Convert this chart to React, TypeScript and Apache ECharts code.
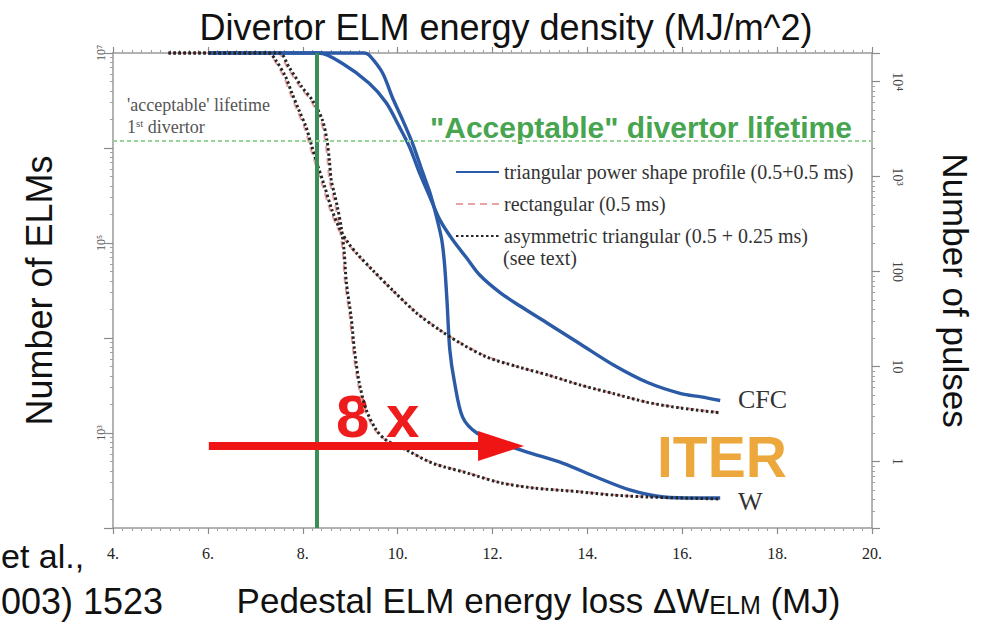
import React, { useEffect, useRef } from "react";
import * as echarts from "echarts";

// Number of ELMs tolerated vs pedestal ELM energy loss (MJ), per power-shape model.
const triangularCFC: [number, number][] = [
  [6.01, 1e7], [8.34, 1e7], [8.83, 7.8e6], [9.4, 4.8e6], [9.76, 3.0e6], [10.04, 1.66e6],
  [10.25, 1.03e6], [10.46, 5.5e5], [10.68, 3.05e5], [10.89, 1.75e5], [11.16, 1.08e5],
  [11.46, 6.9e4], [11.73, 4.6e4], [12.16, 3.0e4], [12.58, 2.17e4], [13.15, 1.44e4],
  [13.85, 8.65e3], [14.55, 5.2e3], [15.27, 3.4e3], [15.97, 2.6e3], [16.4, 2.4e3], [16.8, 2.2e3],
];
const triangularW: [number, number][] = [
  [6.01, 1e7], [9.3, 1e7], [9.4, 9.5e6], [9.68, 6.2e6], [9.89, 3.4e6], [10.1, 2.0e6],
  [10.31, 1.13e6], [10.53, 5.5e5], [10.68, 3.4e5], [10.82, 1.88e5], [10.93, 1.08e5],
  [10.99, 5.9e4], [11.04, 2.5e4], [11.1, 7.5e3], [11.2, 3.4e3], [11.37, 1.47e3],
  [11.67, 1.0e3], [12.16, 790], [12.73, 630], [13.49, 480], [14.21, 340], [14.91, 250],
  [15.61, 212], [16.33, 207], [16.8, 207],
];
const rectangularCFC: [number, number][] = [
  [5.17, 1e7], [7.26, 1e7], [7.4, 8.4e6], [7.6, 5.6e6], [7.73, 3.8e6], [7.88, 2.5e6],
  [8.03, 1.66e6], [8.13, 1.13e6], [8.26, 6.9e5], [8.41, 4.1e5], [8.58, 2.2e5], [8.76, 1.37e5],
  [8.94, 1.0e5], [9.13, 7.65e4], [9.46, 5.2e4], [9.88, 3.2e4], [10.4, 1.85e4], [10.89, 1.22e4],
  [11.31, 9.0e3], [11.88, 6.4e3], [12.52, 5.0e3], [13.15, 4.1e3], [13.85, 3.2e3],
  [14.55, 2.6e3], [15.27, 2.1e3], [15.97, 1.85e3], [16.8, 1.65e3],
];
const rectangularW: [number, number][] = [
  [5.17, 1e7], [7.46, 1e7], [7.67, 7.1e6], [7.94, 4.4e6], [8.16, 3.2e6], [8.37, 2.0e6],
  [8.47, 1.21e6], [8.52, 7.5e5], [8.56, 4.6e5], [8.62, 3.4e5], [8.69, 2.4e5], [8.77, 1.47e5],
  [8.84, 8.4e4], [8.89, 3.8e4], [8.99, 1.66e4], [9.06, 7.5e3], [9.16, 3.4e3], [9.31, 1.75e3],
  [9.52, 1.08e3], [9.74, 850], [10.19, 665], [10.74, 485], [11.46, 385], [12.16, 302],
  [12.86, 266], [13.85, 242], [14.55, 224], [15.27, 213], [15.97, 208], [16.8, 203],
];
const asymmetricCFC: [number, number][] = [
  [5.17, 1e7], [7.28, 1e7], [7.43, 8.4e6], [7.64, 5.6e6], [7.77, 3.8e6], [7.92, 2.5e6],
  [8.07, 1.66e6], [8.17, 1.13e6], [8.3, 6.9e5], [8.45, 4.1e5], [8.62, 2.2e5], [8.79, 1.37e5],
  [8.96, 1.0e5], [9.15, 7.65e4], [9.47, 5.2e4], [9.89, 3.2e4], [10.4, 1.83e4], [10.89, 1.21e4],
  [11.31, 8.9e3], [11.88, 6.3e3], [12.52, 5.0e3], [13.15, 4.1e3], [13.85, 3.2e3],
  [14.55, 2.6e3], [15.27, 2.1e3], [15.97, 1.83e3], [16.8, 1.63e3],
];
const asymmetricW: [number, number][] = [
  [5.17, 1e7], [7.5, 1e7], [7.71, 7.1e6], [7.98, 4.4e6], [8.2, 3.2e6], [8.41, 2.0e6],
  [8.51, 1.21e6], [8.56, 7.5e5], [8.6, 4.6e5], [8.66, 3.4e5], [8.73, 2.4e5], [8.81, 1.47e5],
  [8.87, 8.4e4], [8.92, 3.8e4], [9.02, 1.66e4], [9.09, 7.5e3], [9.19, 3.4e3], [9.34, 1.75e3],
  [9.55, 1.08e3], [9.76, 840], [10.19, 660], [10.74, 480], [11.46, 380], [12.16, 300],
  [12.86, 264], [13.85, 240], [14.55, 222], [15.27, 212], [15.97, 207], [16.8, 202],
];

// Reference levels and annotations (data units)
const designEnergyLoss = 8.3; // MJ, vertical marker
const acceptableLifetimeELMs = 1.2e6; // ELMs, horizontal marker
const arrowStart: [number, number] = [6.02, 730];
const arrowEnd: [number, number] = [12.18, 730];

// Axis ticks and labels
const xMin = 4;
const xMax = 20;
const xStep = 2;
const elmTickValues = [1e7, 1e5, 1e3];
const elmTickLabels = ["10⁷", "10⁵", "10³"];
const pulseTickValues = [1e4, 1e3, 100, 10, 1];
const pulseTickLabels = ["10⁴", "10³", "100", "10", "1"];

const legendNames = [
  "triangular power shape profile (0.5+0.5 ms)",
  "rectangular (0.5 ms)",
  "asymmetric triangular (0.5 + 0.25 ms)",
];

const SANS = '"Liberation Sans", Arial, sans-serif';
const SERIF = '"Liberation Serif", "Times New Roman", serif';

const labelFor = (values: number[], labels: string[]) => (v: number) => {
  const i = values.findIndex((t) => Math.abs(Math.log10(t) - Math.log10(v)) < 1e-6);
  return i >= 0 ? labels[i] : "";
};

export default function App() {
  const ref = useRef<HTMLDivElement>(null);

  useEffect(() => {
    if (!ref.current) return;
    const chart = echarts.init(ref.current, undefined, { renderer: "svg" });

    const axisLine = { lineStyle: { color: "#9a9a9a", width: 1.5 } };
    const axisTick = { length: 6, lineStyle: { color: "#8a8a8a", width: 1.2 } };
    const minorTick = (n: number) => ({
      show: true,
      splitNumber: n,
      length: 3,
      lineStyle: { color: "#a0a0a0", width: 1 },
    });

    const blue = "#2b5aa6";
    const pink = "#eaa3a3";
    const dark = "#262626";

    const lineSeries = (name: string, data: [number, number][], style: any, extra: any = {}) => ({
      type: "line",
      name,
      data,
      xAxisIndex: 0,
      yAxisIndex: 0,
      symbol: "none",
      smooth: 0.3,
      clip: false,
      lineStyle: style,
      itemStyle: { color: style.color },
      ...extra,
    });

    chart.setOption({
      animation: false,
      backgroundColor: "#ffffff",
      grid: { left: 113, right: 116, top: 53, bottom: 100 },
      legend: {
        data: legendNames,
        orient: "vertical",
        left: 450,
        top: 157,
        itemWidth: 43,
        itemHeight: 14,
        itemGap: 12,
        itemStyle: { opacity: 0 },
        textStyle: { fontFamily: SERIF, fontSize: 20, color: "#333" },
        selectedMode: false,
      },
      xAxis: [
        {
          type: "value",
          position: "bottom",
          min: xMin,
          max: xMax,
          interval: xStep,
          axisLine,
          axisTick,
          minorTick: minorTick(10),
          splitLine: { show: false },
          axisLabel: {
            formatter: (v: number) => `${v}.`,
            fontFamily: SERIF,
            fontSize: 16,
            color: "#222",
            margin: 17,
          },
          name: "Pedestal ELM energy loss ΔW{s|ELM} (MJ)",
          nameLocation: "middle",
          nameGap: 55,
          nameTextStyle: {
            fontFamily: SANS,
            fontSize: 35,
            color: "#111",
            padding: [0, 0, 0, 92],
            rich: { s: { fontFamily: SANS, fontSize: 25, color: "#111", padding: [8, 0, 0, 0] } },
          },
        },
        {
          type: "value",
          position: "top",
          min: xMin,
          max: xMax,
          interval: xStep,
          axisLine,
          axisTick,
          minorTick: minorTick(10),
          splitLine: { show: false },
          axisLabel: { show: false },
          name: "Divertor ELM energy density (MJ/m^2)",
          nameLocation: "middle",
          nameGap: 8,
          nameTextStyle: { fontFamily: SANS, fontSize: 36, color: "#111", padding: [0, 0, 0, 27] },
        },
      ],
      yAxis: [
        {
          type: "log",
          logBase: 10,
          position: "left",
          min: 100,
          max: 1e7,
          axisLine,
          axisTick: { ...axisTick, length: 9 },
          minorTick: minorTick(9),
          splitLine: { show: false },
          axisLabel: {
            rotate: 90,
            formatter: labelFor(elmTickValues, elmTickLabels),
            fontFamily: SERIF,
            fontSize: 12,
            color: "#555",
            margin: 6,
          },
          name: "Number of ELMs",
          nameLocation: "middle",
          nameRotate: 90,
          nameGap: 56,
          nameTextStyle: { fontFamily: SANS, fontSize: 36, color: "#111" },
        },
        {
          type: "log",
          logBase: 10,
          position: "right",
          min: 0.2,
          max: 20000,
          axisLine,
          axisTick: { ...axisTick, length: 8 },
          minorTick: minorTick(9),
          splitLine: { show: false },
          axisLabel: {
            rotate: -90,
            formatter: labelFor(pulseTickValues, pulseTickLabels),
            fontFamily: SERIF,
            fontSize: 14,
            color: "#444",
            margin: 18,
          },
          name: "Number of pulses",
          nameLocation: "middle",
          nameRotate: -90,
          nameGap: 66,
          nameTextStyle: { fontFamily: SANS, fontSize: 35, color: "#111" },
        },
      ],
      series: [
        lineSeries(legendNames[0], triangularCFC, { color: blue, width: 3.4 }, {
          z: 3,
          markLine: {
            silent: true,
            symbol: "none",
            label: { show: false },
            data: [
              { xAxis: designEnergyLoss, lineStyle: { color: "#3c8e57", width: 4, type: "solid" } },
              { yAxis: acceptableLifetimeELMs, lineStyle: { color: "#94d494", width: 2, type: [4, 3] } },
            ],
          },
        }),
        lineSeries(legendNames[0], triangularW, { color: blue, width: 3.4 }, { z: 3 }),
        lineSeries(legendNames[1], rectangularCFC, { color: pink, width: 2, type: [7, 5] }, { z: 2 }),
        lineSeries(legendNames[1], rectangularW, { color: pink, width: 2, type: [7, 5] }, { z: 2 }),
        lineSeries(legendNames[2], asymmetricCFC, { color: dark, width: 3, type: [2.5, 2.5] }, { z: 4 }),
        lineSeries(legendNames[2], asymmetricW, { color: dark, width: 3, type: [2.5, 2.5] }, {
          z: 4,
          markLine: {
            silent: true,
            symbol: ["none", "triangle"],
            symbolSize: [30, 46],
            label: { show: false },
            lineStyle: { color: "#f01515", width: 8, type: "solid" },
            data: [[{ coord: arrowStart }, { coord: arrowEnd }]],
          },
        }),
      ],
      graphic: [
        {
          type: "text",
          x: 430,
          y: 127,
          style: {
            text: '"Acceptable" divertor lifetime',
            fill: "#47a44f",
            fontFamily: SANS,
            fontWeight: "bold",
            fontSize: 30,
            verticalAlign: "middle",
          },
        },
        {
          type: "text",
          x: 127,
          y: 105,
          style: { text: "'acceptable' lifetime", fill: "#555", fontFamily: SERIF, fontSize: 18, verticalAlign: "middle" },
        },
        {
          type: "text",
          x: 127,
          y: 127,
          style: {
            text: "{a|1}{s|st}{a| divertor}",
            verticalAlign: "middle",
            rich: {
              a: { fill: "#555", fontFamily: SERIF, fontSize: 18 },
              s: { fill: "#555", fontFamily: SERIF, fontSize: 11, padding: [0, 0, 8, 0] },
            },
          },
        },
        {
          type: "text",
          x: 503,
          y: 258,
          style: { text: "(see text)", fill: "#333", fontFamily: SERIF, fontSize: 20, verticalAlign: "middle" },
        },
        {
          type: "text",
          x: 336,
          y: 416,
          style: {
            text: "8 x",
            fill: "#ee1c1c",
            fontFamily: SANS,
            fontWeight: "bold",
            fontSize: 60,
            lineHeight: 46,
            verticalAlign: "middle",
          },
        },
        {
          type: "text",
          x: 657,
          y: 457,
          style: {
            text: "ITER",
            fill: "#eca83c",
            fontFamily: SANS,
            fontWeight: "bold",
            fontSize: 57,
            lineHeight: 44,
            verticalAlign: "middle",
          },
        },
        {
          type: "text",
          x: 738,
          y: 399,
          style: { text: "CFC", fill: "#333", fontFamily: SERIF, fontSize: 26, verticalAlign: "middle" },
        },
        {
          type: "text",
          x: 738,
          y: 501,
          style: { text: "W", fill: "#333", fontFamily: SERIF, fontSize: 26, lineHeight: 22, verticalAlign: "middle" },
        },
        {
          type: "text",
          x: 1,
          y: 556,
          style: { text: "et al.,", fill: "#111", fontFamily: SANS, fontSize: 34, verticalAlign: "middle" },
        },
        {
          type: "text",
          x: 1,
          y: 601,
          style: { text: "003) 1523", fill: "#111", fontFamily: SANS, fontSize: 36, verticalAlign: "middle" },
        },
      ],
    });

    return () => chart.dispose();
  }, []);

  return (
    <div
      ref={ref}
      style={{ position: "fixed", left: 0, top: 0, width: 988, height: 628, background: "#fff" }}
    />
  );
}
